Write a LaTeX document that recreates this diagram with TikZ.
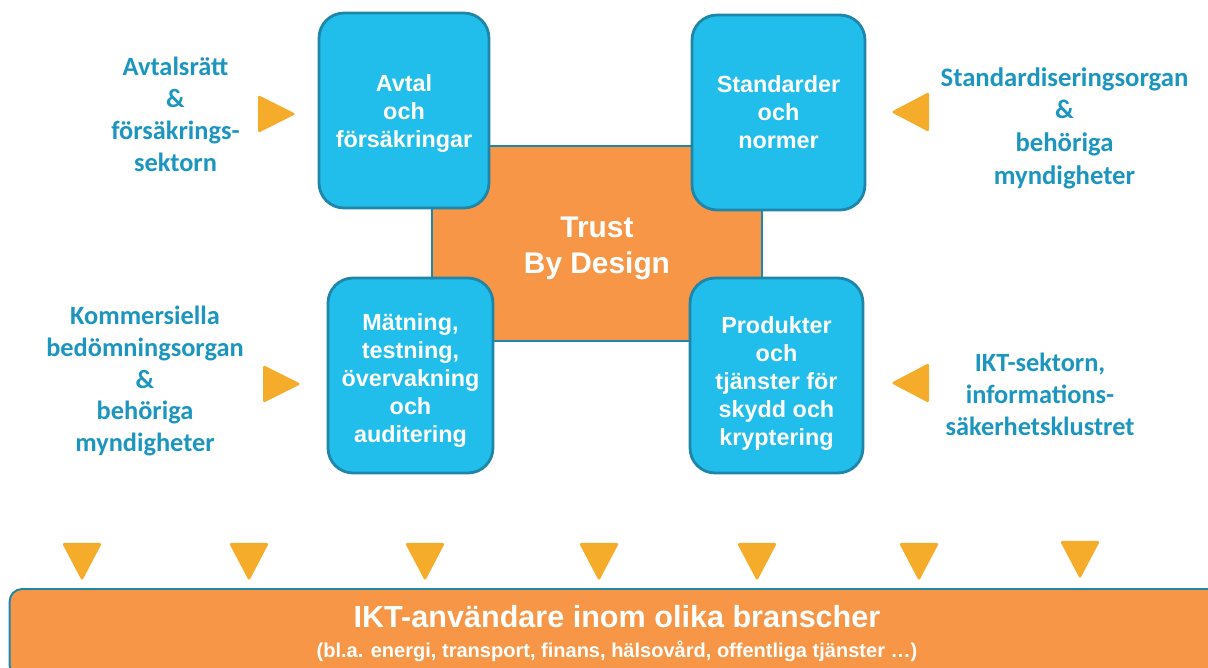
\documentclass[tikz,border=0pt]{standalone}
\usepackage{fontspec}
\setmainfont{Liberation Sans}
\newfontfamily\sidefont{Carlito}
\usepackage{xcolor}
\usepackage{tikz}
\usetikzlibrary{positioning}
\definecolor{boxcyan}{HTML}{21BDEB}
\definecolor{boxline}{HTML}{1E86A8}
\definecolor{coreorange}{HTML}{F79646}
\definecolor{markergold}{HTML}{F5AC2A}
\definecolor{actorblue}{HTML}{1C95C0}
\tikzstyle{pillar} = [rectangle, rounded corners=0.5cm, minimum width=3.4cm, minimum height=3.9cm, text centered, align=center, fill=boxcyan, draw=boxline, line width=1.6pt, text=white, font=\fontsize{13.3}{16}\selectfont\bfseries]
\tikzstyle{core} = [rectangle, minimum width=6.6cm, minimum height=3.9cm, text centered, align=center, fill=coreorange, draw=boxline, line width=1.1pt, text=white, font=\fontsize{17}{20}\selectfont\bfseries]
\tikzstyle{actor} = [align=center, text=actorblue, font=\sidefont\fontsize{15}{18.2}\selectfont\bfseries]
\tikzstyle{marker} = [fill=markergold, rounded corners=1pt]
\tikzstyle{bar} = [rectangle, rounded corners=0.25cm, minimum width=24.3cm, minimum height=1.78cm, align=center, fill=coreorange, draw=boxline, line width=1.1pt, text=white, font=\bfseries]

\begin{document}
\begin{tikzpicture}[x=0.02cm, y=-0.02cm]
		\useasboundingbox (0,0) rectangle (1208,668);
		\clip (0,0) rectangle (1208,668);
		%kärnan och de fyra pelarna
		\node (core) [core] at (597,243.5) {\raisebox{-2.8pt}[\height][\depth]{\parbox{4cm}{\centering Trust\\By Design}}};
		\node (avtal) [pillar] at (404,110.5) {\raisebox{-1.7pt}[\height][\depth]{\parbox{3cm}{\centering Avtal\\och\\försäkringar}}};
		\node (standard) [pillar, minimum width=3.46cm] at (778.5,112.5) {Standarder\\och\\normer};
		\node (matning) [pillar, minimum width=3.3cm] at (410.5,375.5) {\raisebox{-2.8pt}[\height][\depth]{\parbox{3cm}{\centering Mätning,\\testning,\\övervakning\\och\\auditering}}};
		\node (produkt) [pillar, minimum width=3.46cm] at (776.5,375.5) {\raisebox{-4.5pt}[\height][\depth]{\parbox{3.2cm}{\centering Produkter\\och\\tjänster för\\skydd och\\kryptering}}};
		
		%aktörerna runt omkring
		\node (avtalsratt) [actor] at (175.5,114.5) {Avtalsrätt\\\&\\försäkrings-\\sektorn};
		\node (kommersiella) [actor] at (145,381) {Kommersiella\\bedömningsorgan\\\&\\behöriga\\myndigheter};
		\node (standardorgan) [actor, font=\sidefont\fontsize{15.2}{18.6}\selectfont\bfseries] at (1064.5,128) {Standardiseringsorgan\\\&\\behöriga\\myndigheter};
		\node (iktsektor) [actor] at (1040,394) {IKT-sektorn,\\informations-\\säkerhetsklustret};
		
		%pilspetsar mot pelarna
		\fill [marker] (258,95) -- (296,114) -- (258,133) -- cycle;
		\fill [marker] (263,365) -- (301,384) -- (263,403) -- cycle;
		\fill [marker] (929,92) -- (891,112) -- (929,132) -- cycle;
		\fill [marker] (929,363) -- (891,383) -- (929,403) -- cycle;
		
		%pilspetsar mot användarna
		\fill [marker] (62,543) -- (102,543) -- (82,581) -- cycle;
		\fill [marker] (229,543) -- (269,543) -- (249,581) -- cycle;
		\fill [marker] (405,543) -- (445,543) -- (425,581) -- cycle;
		\fill [marker] (579,543) -- (619,543) -- (599,581) -- cycle;
		\fill [marker] (737,543) -- (777,543) -- (757,581) -- cycle;
		\fill [marker] (899,543) -- (939,543) -- (919,581) -- cycle;
		\fill [marker] (1060,541) -- (1100,541) -- (1080,579) -- cycle;
		
		\node (users) [bar] at (617,633.5) {{\fontsize{17.4}{20}\selectfont IKT-användare inom olika branscher}\\[5.5pt]{\fontsize{11.4}{13}\selectfont (bl.a. energi, transport, finans, hälsovård, offentliga tjänster …)}};
		
	\end{tikzpicture}
\end{document}
